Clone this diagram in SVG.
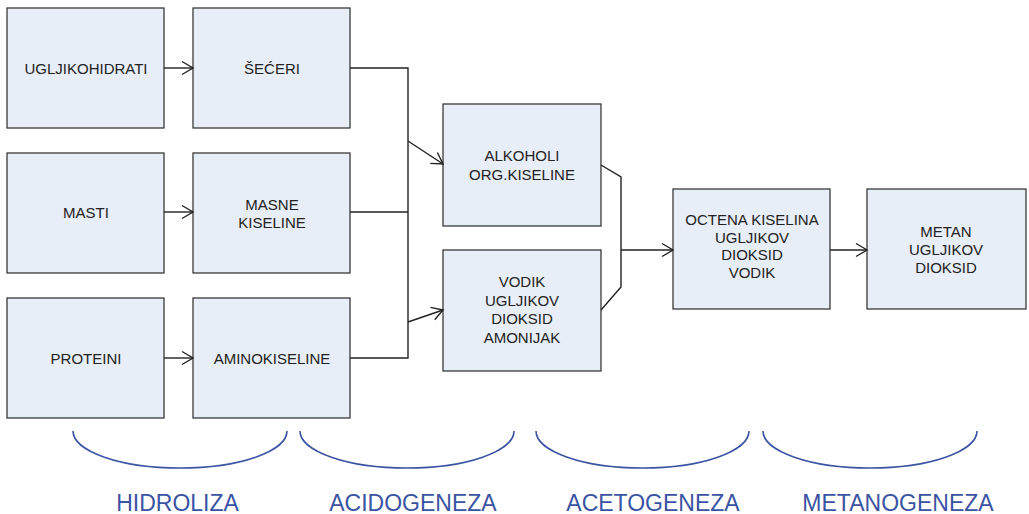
<svg xmlns="http://www.w3.org/2000/svg" width="1029" height="514" viewBox="0 0 1029 514">
<style>
.box{fill:#e8eef7;stroke:#2a2a2a;stroke-width:1.2}
.t{font-family:"Liberation Sans",Arial,sans-serif;font-size:15px;fill:#222;text-anchor:middle}
.c{fill:none;stroke:#222;stroke-width:1.4}
.b{fill:none;stroke:#3b53a3;stroke-width:1.6}
.p{font-family:"Liberation Sans",Arial,sans-serif;font-size:23px;fill:#3b53a3;text-anchor:middle}
</style>
<defs>
<marker id="ar" markerUnits="userSpaceOnUse" markerWidth="14" markerHeight="16" viewBox="0 0 14 16" refX="12" refY="8" orient="auto">
<path d="M1,1.5 L12,8 L1,14.5" fill="none" stroke="#222" stroke-width="1.4"/>
</marker>
</defs>
<rect width="1029" height="514" fill="#fff"/>
<g id="n-ugljikohidrati"><rect class="box" x="7" y="8" width="157" height="120"/><text class="t" x="86" y="74">UGLJIKOHIDRATI</text></g>
<g id="n-seceri"><rect class="box" x="193" y="8" width="157" height="120"/><text class="t" x="272" y="74">ŠEĆERI</text></g>
<g id="n-masti"><rect class="box" x="7" y="153" width="157" height="120"/><text class="t" x="86" y="218">MASTI</text></g>
<g id="n-masne"><rect class="box" x="193" y="153" width="157" height="120"/><text class="t" x="272" y="210">MASNE</text><text class="t" x="272" y="228">KISELINE</text></g>
<g id="n-proteini"><rect class="box" x="7" y="298" width="157" height="120"/><text class="t" x="86" y="364">PROTEINI</text></g>
<g id="n-amino"><rect class="box" x="193" y="298" width="157" height="120"/><text class="t" x="272" y="364">AMINOKISELINE</text></g>
<g id="n-alkoholi"><rect class="box" x="443" y="104" width="158" height="122"/><text class="t" x="522" y="161">ALKOHOLI</text><text class="t" x="522" y="180">ORG.KISELINE</text></g>
<g id="n-vodik"><rect class="box" x="443" y="250" width="158" height="121"/><text class="t" x="522" y="287">VODIK</text><text class="t" x="522" y="305.5">UGLJIKOV</text><text class="t" x="522" y="324">DIOKSID</text><text class="t" x="522" y="342.5">AMONIJAK</text></g>
<g id="n-octena"><rect class="box" x="673" y="189" width="157" height="120"/><text class="t" x="752" y="225">OCTENA KISELINA</text><text class="t" x="752" y="242.5">UGLJIKOV</text><text class="t" x="752" y="260">DIOKSID</text><text class="t" x="752" y="277.5">VODIK</text></g>
<g id="n-metan"><rect class="box" x="867" y="189" width="159" height="120"/><text class="t" x="946" y="237">METAN</text><text class="t" x="946" y="255">UGLJIKOV</text><text class="t" x="946" y="273">DIOKSID</text></g>
<g id="connectors">
<line class="c" x1="164" y1="68" x2="193" y2="68" marker-end="url(#ar)"/>
<line class="c" x1="164" y1="212" x2="193" y2="212" marker-end="url(#ar)"/>
<line class="c" x1="164" y1="358" x2="193" y2="358" marker-end="url(#ar)"/>
<polyline class="c" points="350,68 408,68 408,358 350,358"/>
<line class="c" x1="350" y1="212" x2="408" y2="212"/>
<line class="c" x1="408" y1="141" x2="443" y2="164" marker-end="url(#ar)"/>
<line class="c" x1="408" y1="322" x2="443" y2="310" marker-end="url(#ar)"/>
<polyline class="c" points="601,165 621,177 621,287 601,310"/>
<line class="c" x1="621" y1="250" x2="673" y2="250" marker-end="url(#ar)"/>
<line class="c" x1="830" y1="250" x2="867" y2="250" marker-end="url(#ar)"/>
</g>
<g id="phases">
<path class="b" d="M73,431 A107,37 0 0 0 287,431"/>
<path class="b" d="M300,431 A107,37 0 0 0 514,431"/>
<path class="b" d="M536,431 A106.5,37 0 0 0 749,431"/>
<path class="b" d="M763,431 A107,37 0 0 0 977,431"/>
<text class="p" x="177.5" y="511">HIDROLIZA</text>
<text class="p" x="413" y="511">ACIDOGENEZA</text>
<text class="p" x="653" y="511">ACETOGENEZA</text>
<text class="p" x="898" y="511">METANOGENEZA</text>
</g>
</svg>
